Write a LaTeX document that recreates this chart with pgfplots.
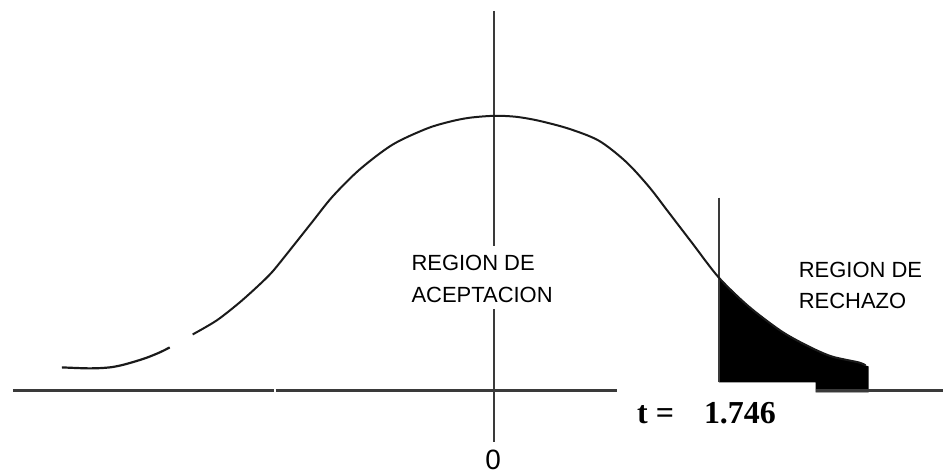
\documentclass[border=0pt]{standalone}
\usepackage{pgfplots}
\pgfplotsset{compat=1.18}
\usepackage{fontspec}
\setmainfont{Liberation Sans}
\newfontfamily\timesbf{Liberation Serif}[BoldFont={* Bold}]

\definecolor{ink}{HTML}{1A1A1A}
\definecolor{rule}{HTML}{3A3A3A}

\begin{document}
\begin{tikzpicture}
\begin{axis}[
  width=945pt, height=474pt, scale only axis,
  xmin=0, xmax=945, ymin=0, ymax=474, y dir=reverse,
  axis lines=none, clip=false,
]
% frame extent
\addplot[draw=none] coordinates {(0,0) (945,474)};

% rejection region: area under the curve right of the critical value
\addplot[fill=black, draw=none] coordinates {
  (720,278) (750,307) (783,332) (810,347) (833,357) (860,363) (867,366)
  (870,367) (870,393) (817,393) (817,383) (720,383)} -- cycle;

% horizontal axis
\addplot[rule, line width=3.2pt] coordinates {(13,391.5) (274,391.5)};
\addplot[rule, line width=3.2pt] coordinates {(276,391.5) (618,391.5)};
\addplot[rule, line width=3.2pt] coordinates {(817,391.5) (945,391.5)};

% vertical axis through the mean
\addplot[rule, line width=2pt] coordinates {(495,11) (495,246)};
\addplot[rule, line width=2pt] coordinates {(495,310) (495,443)};

% critical value line
\addplot[rule, line width=2pt] coordinates {(720,198) (720,383)};

% density curve
\addplot[ink, line width=2.2pt, smooth, tension=0.5] coordinates {
  (62,368) (90,369) (110,368) (125,365) (145,359) (160,353) (170,348)};
\addplot[ink, line width=2pt, smooth, tension=0.5] coordinates {
  (193,335) (217,321) (240,303) (260,285) (273,272) (290,251) (313,222)
  (333,197) (360,170) (393,145) (427,129) (450,122) (470,118) (495,116)
  (517,117) (540,121) (570,129) (600,141) (627,162) (650,187) (670,213)
  (693,243) (720,278) (750,307) (783,332) (810,347) (833,357) (860,363) (867,366)};

% labels (base anchor of a two-line node sits on its last line)
\node[anchor=base west, inner sep=0pt, align=left, font=\fontsize{22}{32}\selectfont]
  at (axis cs:412,303) {REGION DE\\ACEPTACION};
\node[anchor=base west, inner sep=0pt, align=left, font=\fontsize{22}{31}\selectfont]
  at (axis cs:800,309) {REGION DE\\RECHAZO};
\node[anchor=base west, inner sep=0pt, font=\timesbf\bfseries\fontsize{32}{36}\selectfont]
  at (axis cs:638,424) {t =};
\node[anchor=base west, inner sep=0pt, font=\timesbf\bfseries\fontsize{32}{36}\selectfont]
  at (axis cs:705,424) {1.746};
\node[anchor=base, inner sep=0pt, font=\fontsize{28}{32}\selectfont]
  at (axis cs:494,470) {0};
\end{axis}
\end{tikzpicture}
\end{document}
